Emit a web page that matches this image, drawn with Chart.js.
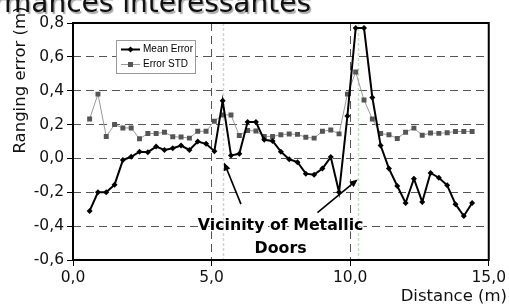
<!DOCTYPE html>
<html>
<head>
<meta charset="utf-8">
<script src="https://cdn.jsdelivr.net/npm/chart.js@4.4.1/dist/chart.umd.min.js"></script>
<style>
	html, body { margin: 0; padding: 0; background: #fff; }
	#wrap { width: 509px; height: 307px; }
</style>
</head>
<body>
<div id="wrap"><canvas id="rangingChart" width="509" height="307"></canvas></div>
<script>
// Distance of each measurement (m)
const distances = [0.6, 0.9, 1.2, 1.5, 1.8, 2.1, 2.4, 2.7, 3.0, 3.3, 3.6, 3.9, 4.2, 4.5, 4.8, 5.1, 5.4, 5.7, 6.0, 6.3,
	6.6, 6.9, 7.2, 7.5, 7.8, 8.1, 8.4, 8.7, 9.0, 9.3, 9.6, 9.9, 10.2, 10.5, 10.8, 11.1, 11.4, 11.7, 12.0, 12.3,
	12.6, 12.9, 13.2, 13.5, 13.8, 14.1, 14.4];

const meanError = [-0.31, -0.20, -0.20, -0.155, -0.01, 0.01, 0.04, 0.037, 0.07, 0.05, 0.06, 0.076, 0.05, 0.10, 0.086,
	0.043, 0.34, 0.018, 0.027, 0.215, 0.215, 0.11, 0.103, 0.04, -0.005, -0.022, -0.09, -0.096, -0.06, 0.008,
	-0.20, 0.25, 0.77, 0.77, 0.36, 0.076, -0.06, -0.163, -0.263, -0.12, -0.257, -0.086, -0.114, -0.159, -0.27,
	-0.34, -0.263];

const errorStd = [0.233, 0.38, 0.13, 0.20, 0.18, 0.18, 0.116, 0.147, 0.147, 0.155, 0.128, 0.126, 0.12, 0.16, 0.16,
	0.22, 0.257, 0.257, 0.135, 0.165, 0.162, 0.13, 0.13, 0.14, 0.144, 0.142, 0.125, 0.12, 0.16, 0.168,
	0.145, 0.38, 0.51, 0.345, 0.233, 0.147, 0.14, 0.118, 0.155, 0.179, 0.137, 0.15, 0.148, 0.152, 0.159,
	0.159, 0.159];

const seriesLabels = ['Mean Error', 'Error STD'];
const doorPositions = [5.4, 10.3]; // dotted markers at the doors
const noteLines = ['Vicinity of Metallic', 'Doors'];
const titleText = 'Performances intéressantes';
const xTitle = 'Distance (m)';
const yTitle = 'Ranging error (m)';

function commaFormat(v) {
	if (Math.abs(v) < 1e-9) v = 0;
	return v.toFixed(1).replace('.', ',');
}

function toPoints(values) {
	return values.map((v, i) => ({ x: distances[i], y: v }));
}

function drawArrow(ctx, x1, y1, x2, y2) {
	const ang = Math.atan2(y2 - y1, x2 - x1);
	ctx.beginPath();
	ctx.moveTo(x1, y1);
	ctx.lineTo(x2 - 5 * Math.cos(ang), y2 - 5 * Math.sin(ang));
	ctx.stroke();
	ctx.beginPath();
	ctx.moveTo(x2, y2);
	ctx.lineTo(x2 - 8 * Math.cos(ang) + 3.5 * Math.sin(ang), y2 - 8 * Math.sin(ang) - 3.5 * Math.cos(ang));
	ctx.lineTo(x2 - 8 * Math.cos(ang) - 3.5 * Math.sin(ang), y2 - 8 * Math.sin(ang) + 3.5 * Math.cos(ang));
	ctx.closePath();
	ctx.fill();
}

const decorPlugin = {
	id: 'decor',
	beforeDatasetsDraw(chart) {
		const ctx = chart.ctx;
		const area = chart.chartArea;
		const xs = chart.scales.x;
		ctx.save();
		ctx.strokeStyle = '#c9dcc9';
		ctx.lineWidth = 1.5;
		ctx.setLineDash([3, 2]);
		doorPositions.forEach(d => {
			const px = Math.round(xs.getPixelForValue(d)) + 0.5;
			ctx.beginPath();
			ctx.moveTo(px, area.top);
			ctx.lineTo(px, area.bottom);
			ctx.stroke();
		});
		ctx.restore();
	},
	afterDatasetsDraw(chart) {
		const ctx = chart.ctx;
		const xs = chart.scales.x;
		const ys = chart.scales.y;
		ctx.save();
		ctx.strokeStyle = '#000';
		ctx.fillStyle = '#000';
		ctx.lineWidth = 1.6;
		drawArrow(ctx, xs.getPixelForValue(6.06), ys.getPixelForValue(-0.27), xs.getPixelForValue(5.45), ys.getPixelForValue(-0.024));
		drawArrow(ctx, xs.getPixelForValue(8.82), ys.getPixelForValue(-0.32), xs.getPixelForValue(10.27), ys.getPixelForValue(-0.124));

		// note text with white halo
		ctx.font = 'bold 15.8px "DejaVu Sans", sans-serif';
		ctx.textAlign = 'center';
		ctx.textBaseline = 'middle';
		ctx.lineJoin = 'round';
		const cx = xs.getPixelForValue(7.49);
		[ys.getPixelForValue(-0.4), ys.getPixelForValue(-0.535)].forEach((py, i) => {
			ctx.strokeStyle = '#fff';
			ctx.lineWidth = 2.5;
			ctx.strokeText(noteLines[i], cx, py);
			ctx.fillStyle = '#000';
			ctx.fillText(noteLines[i], cx, py);
		});
		ctx.restore();
	},
	afterDraw(chart) {
		const ctx = chart.ctx;
		const area = chart.chartArea;
		ctx.save();

		// plot frame
		ctx.strokeStyle = '#000';
		ctx.lineWidth = 2;
		ctx.setLineDash([]);
		ctx.strokeRect(area.left, area.top, area.right - area.left, area.bottom - area.top);

		// legend box
		ctx.fillStyle = '#fff';
		ctx.fillRect(116, 40, 80, 34);
		ctx.strokeStyle = '#999';
		ctx.lineWidth = 1;
		ctx.strokeRect(116.5, 40.5, 79, 33);
		ctx.font = '10px "Liberation Sans", Arial, sans-serif';
		ctx.textAlign = 'left';
		ctx.textBaseline = 'middle';
		const rows = [
			{ y: 49.5, line: '#000', width: 2, mark: 'diamond' },
			{ y: 64.5, line: '#999', width: 1, mark: 'square' }
		];
		rows.forEach((r, i) => {
			ctx.strokeStyle = r.line;
			ctx.lineWidth = r.width;
			ctx.beginPath();
			ctx.moveTo(121, r.y);
			ctx.lineTo(140, r.y);
			ctx.stroke();
			ctx.fillStyle = i === 0 ? '#000' : '#555';
			ctx.beginPath();
			if (r.mark === 'diamond') {
				ctx.moveTo(130.5, r.y - 3);
				ctx.lineTo(133.5, r.y);
				ctx.lineTo(130.5, r.y + 3);
				ctx.lineTo(127.5, r.y);
				ctx.closePath();
				ctx.fill();
			} else {
				ctx.fillRect(128, r.y - 2.5, 5, 5);
			}
			ctx.fillStyle = '#000';
			ctx.fillText(seriesLabels[i], 143, r.y);
		});

		// axis titles
		ctx.fillStyle = '#111';
		ctx.font = '16.5px "DejaVu Sans", sans-serif';
		ctx.textAlign = 'right';
		ctx.fillText(xTitle, 507, 297);
		ctx.save();
		ctx.translate(21, 80);
		ctx.rotate(-Math.PI / 2);
		ctx.textAlign = 'center';
		ctx.fillText(yTitle, 0, 0);
		ctx.restore();

		// page title, cut off at the top edge
		ctx.font = '28px "DejaVu Sans", sans-serif';
		ctx.textAlign = 'right';
		ctx.textBaseline = 'alphabetic';
		ctx.shadowColor = 'rgba(0,0,0,0.35)';
		ctx.shadowOffsetX = 1.5;
		ctx.shadowOffsetY = 1.5;
		ctx.shadowBlur = 1;
		ctx.fillStyle = '#111';
		ctx.fillText(titleText, 311, 12);
		ctx.restore();
	}
};

document.addEventListener('DOMContentLoaded', function() {
	const ctx = document.getElementById('rangingChart').getContext('2d');
	const tickFont = { family: '"DejaVu Sans", sans-serif', size: 15.5 };

	new Chart(ctx, {
		type: 'line',
		data: {
			datasets: [
				{
					label: seriesLabels[0],
					data: toPoints(meanError),
					borderColor: '#000',
					backgroundColor: '#000',
					borderWidth: 2,
					pointStyle: 'rectRot',
					pointRadius: 3,
					pointBorderWidth: 0,
					tension: 0
				},
				{
					label: seriesLabels[1],
					data: toPoints(errorStd),
					borderColor: '#9a9a9a',
					backgroundColor: '#555',
					borderWidth: 1,
					pointStyle: 'rect',
					pointRadius: 3.5,
					pointBorderWidth: 0,
					tension: 0
				}
			]
		},
		options: {
			responsive: false,
			animation: false,
			devicePixelRatio: 1,
			layout: {
				padding: { left: 0, top: 23, right: 18, bottom: 0 }
			},
			plugins: {
				legend: { display: false },
				tooltip: { enabled: false }
			},
			scales: {
				x: {
					type: 'linear',
					min: 0,
					max: 15,
					afterFit: scale => { scale.height = 47; },
					ticks: {
						stepSize: 5,
						maxRotation: 0,
						padding: 3,
						color: '#111',
						font: tickFont,
						callback: v => commaFormat(v)
					},
					grid: {
						color: ctx => (ctx.tick && (ctx.tick.value === 0 || ctx.tick.value === 15)) ? 'rgba(0,0,0,0)' : '#555',
						lineWidth: 1,
						tickColor: '#000',
						tickLength: 6,
						tickBorderDash: []
					},
					border: { display: false, dash: [8, 5] }
				},
				y: {
					min: -0.6,
					max: 0.8,
					afterFit: scale => { scale.width = 73; },
					ticks: {
						stepSize: 0.2,
						padding: 3,
						color: '#111',
						font: tickFont,
						callback: v => commaFormat(v)
					},
					grid: {
						color: ctx => (ctx.tick && (Math.abs(ctx.tick.value + 0.6) < 1e-6 || Math.abs(ctx.tick.value - 0.8) < 1e-6)) ? 'rgba(0,0,0,0)' : '#555',
						lineWidth: 1,
						tickColor: '#000',
						tickLength: 6,
						tickBorderDash: []
					},
					border: { display: false, dash: [8, 5] }
				}
			}
		},
		plugins: [decorPlugin]
	});
});
</script>
</body>
</html>
